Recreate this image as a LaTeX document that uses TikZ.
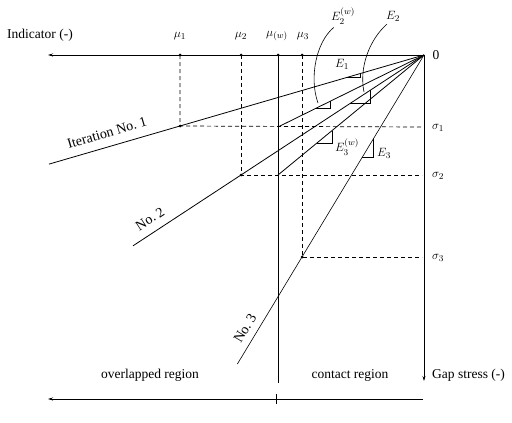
\documentclass[tikz,border=0pt]{standalone}
\usepackage{fontspec}
\setmainfont{Liberation Serif}
\usetikzlibrary{calc,arrows.meta}
\begin{document}
\begin{tikzpicture}[x=1pt,y=-1pt,
  axis/.style={line width=0.7pt,-{Stealth[length=5pt,width=3pt]}},
  iter/.style={line width=0.8pt},
  thinline/.style={line width=0.6pt},
  guide/.style={line width=0.7pt,dash pattern=on 4pt off 3pt},
  tri/.style={line width=0.7pt},
  dot/.style={circle,fill,inner sep=0pt,minimum size=3pt},
  lbl/.style={font=\fontsize{13.5}{15}\selectfont,inner sep=1pt},
  ilbl/.style={font=\fontsize{14}{16}\selectfont,inner sep=1pt},
  mlbl/.style={font=\fontsize{12.5}{14}\selectfont,inner sep=1pt}]
\useasboundingbox (0,0) rectangle (512,423);
% key points
\coordinate (O) at (424,55);
\coordinate (d1) at (180,126);
\coordinate (d2) at (241,175);
\coordinate (d3) at (302,257);
\coordinate (w1) at (278,127);
\coordinate (w2) at (278,175);
\coordinate (m1) at (180,55);
\coordinate (m2) at (241,55);
\coordinate (mw) at (278,55);
\coordinate (m3) at (302,55);
\coordinate (mwb) at (278,383);
\coordinate (xend) at (48,55);
\coordinate (yend) at (424,381);
\coordinate (s1) at (422,127);
\coordinate (s2) at (422,175);
\coordinate (s3) at (422,257);
\coordinate (br) at (423,399);
\coordinate (bl) at (48,399);
\coordinate (tk1) at (276,394);
\coordinate (tk2) at (276,404);
% axes
\draw[axis] (O) -- (xend);
\draw[axis] (O) -- (yend);
\draw[axis] (br) -- (bl);
\draw[thinline] (tk1) -- (tk2);
% iteration lines
\draw[iter] (O) -- ($(O)!1.537!(d1)$) coordinate (n1end);
\draw[iter] (O) -- ($(O)!1.59!(d2)$) coordinate (n2end);
\draw[thinline] (O) -- ($(O)!1.53!(d3)$) coordinate (n3end);
\draw[iter] (O) -- (w1);
\draw[iter] (O) -- (w2);
% mu(w) vertical
\draw[thinline] (mw) -- (mwb);
% dashed guides
\draw[guide] (m1) -- (d1) -- (s1);
\draw[guide] (m2) -- (d2) -- (s2);
\draw[guide] (m3) -- (d3) -- (s3);
% dots
\foreach \p in {m1,m2,mw,m3,d1,d2,d3}
  \node[dot] at (\p) {};
% slope triangles
\draw[tri] ($(O)!0.316!(d1)$) coordinate (e1a) -- (e1a -| {$(O)!0.262!(d1)$}) -- ($(O)!0.262!(d1)$);
\draw[tri] ($(O)!0.747!(w1)$) coordinate (e2wa) -- (e2wa -| {$(O)!0.644!(w1)$}) -- ($(O)!0.644!(w1)$);
\draw[tri] ($(O)!0.404!(d2)$) coordinate (e2a) -- (e2a -| {$(O)!0.295!(d2)$}) -- ($(O)!0.295!(d2)$);
\draw[tri] ($(O)!0.733!(w2)$) coordinate (e3wa) -- (e3wa -| {$(O)!0.63!(w2)$}) -- ($(O)!0.63!(w2)$);
\draw[tri] ($(O)!0.508!(d3)$) coordinate (e3a) -- (e3a -| {$(O)!0.418!(d3)$}) -- ($(O)!0.418!(d3)$);
% labels
\node[lbl,anchor=west] (ind) at (6,35) {Indicator (-)};
\node[mlbl] (lm1) at (180,36) {$\mu_1$};
\node[mlbl] (lm2) at (241,36) {$\mu_2$};
\node[mlbl] (lmw) at (277,36) {$\mu_{(w)}$};
\node[mlbl] (lm3) at (303,36) {$\mu_3$};
\node[lbl] (zero) at (436,55) {0};
\node[mlbl] (ls1) at (438,128) {$\sigma_1$};
\node[mlbl] (ls2) at (438,176) {$\sigma_2$};
\node[mlbl] (ls3) at (438,258) {$\sigma_3$};
\node[lbl,anchor=west] (gap) at (431,375) {Gap stress (-)};
\node[lbl] (ovl) at (150,375) {overlapped region};
\node[lbl] (con) at (350,375) {contact region};
\node[mlbl] (le1) at (342,64) {$E_1$};
\node[mlbl] (le2w) at (343,16) {$E_2^{(w)}$};
\node[mlbl] (le2) at (393,16) {$E_2$};
\node[mlbl] (le3w) at (347,147) {$E_3^{(w)}$};
\node[mlbl] (le3) at (384,153) {$E_3$};
\node[ilbl,rotate=16.5] (it1) at (107,133) {Iteration No.~1};
\node[ilbl,rotate=33] (it2) at (150,219) {No.~2};
\node[ilbl,rotate=59] (it3) at (245,328) {No.~3};
% curved pointers
\coordinate (c2w) at (318,103);
\coordinate (c2) at (364,92);
\draw[thinline] (le2w.south west) ++(4,2) .. controls (316,42) and (309,78) .. (c2w);
\draw[thinline] (le2.south west) ++(2,2) .. controls (369,40) and (359,68) .. (c2);
\end{tikzpicture}
\end{document}
